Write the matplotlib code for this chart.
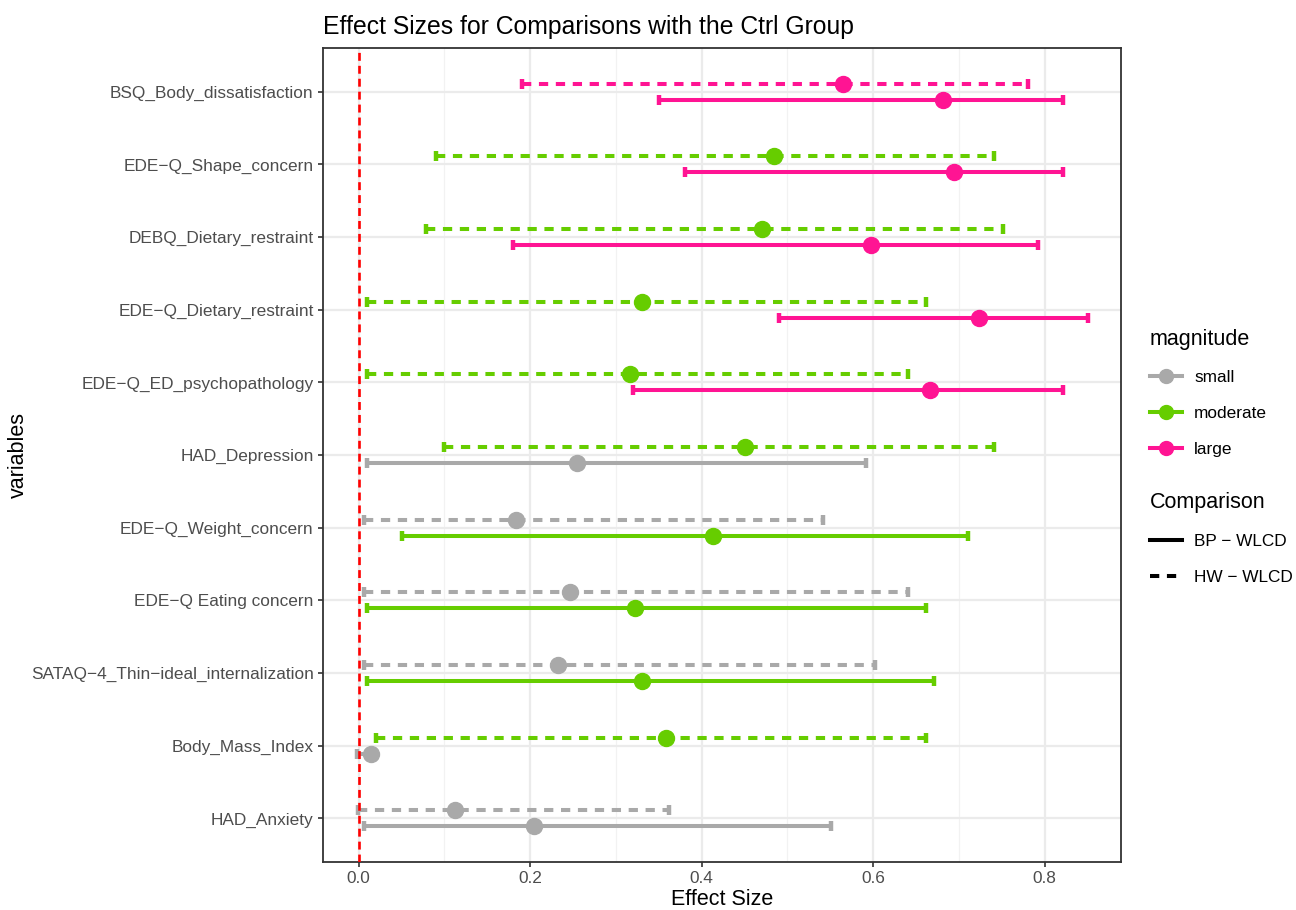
import matplotlib
matplotlib.use("Agg")
import matplotlib.pyplot as plt
from matplotlib.lines import Line2D
import numpy as np

plt.rcParams['font.family'] = ['Liberation Sans', 'DejaVu Sans']

# rows, top to bottom
variables = ["BSQ_Body_dissatisfaction", "EDE\u2212Q_Shape_concern", "DEBQ_Dietary_restraint",
             "EDE\u2212Q_Dietary_restraint", "EDE\u2212Q_ED_psychopathology", "HAD_Depression",
             "EDE\u2212Q_Weight_concern", "EDE\u2212Q Eating concern",
             "SATAQ\u22124_Thin\u2212ideal_internalization", "Body_Mass_Index", "HAD_Anxiety"]

# BP - WLCD (solid)
bp_est = [0.681, 0.694, 0.597, 0.723, 0.666, 0.254, 0.413, 0.322, 0.330, 0.014, 0.204]
bp_lo = [0.350, 0.380, 0.180, 0.490, 0.320, 0.010, 0.050, 0.010, 0.010, -0.002, 0.006]
bp_hi = [0.821, 0.821, 0.792, 0.851, 0.821, 0.591, 0.711, 0.661, 0.671, 0.018, 0.551]
bp_mag = ["large", "large", "large", "large", "large", "small",
          "moderate", "moderate", "moderate", "small", "small"]

# HW - WLCD (dashed)
hw_est = [0.565, 0.484, 0.470, 0.330, 0.316, 0.451, 0.183, 0.246, 0.232, 0.358, 0.112]
hw_lo = [0.190, 0.090, 0.079, 0.010, 0.010, 0.099, 0.006, 0.006, 0.006, 0.020, -0.001]
hw_hi = [0.781, 0.741, 0.751, 0.661, 0.641, 0.741, 0.541, 0.641, 0.602, 0.661, 0.362]
hw_mag = ["large", "moderate", "moderate", "moderate", "moderate", "moderate",
          "small", "small", "small", "moderate", "small"]

colors = {"small": "#A9A9A9", "moderate": "#66CD00", "large": "#FF1493"}
dash = (0, (2.3, 1.9))

fig = plt.figure(figsize=(12.96, 9.10), dpi=100)
ax = fig.add_axes([0.249, 0.0527, 0.616, 0.8943])

n = len(variables)
ypos = np.arange(n)[::-1]
lw = 2.9


def draw(est, lo, hi, mag, off, ls):
    for i in range(n):
        y = ypos[i] + off
        c = colors[mag[i]]
        ax.hlines(y, lo[i], hi[i], colors=c, linewidth=lw, linestyles=ls, zorder=3)
        ax.plot([lo[i], hi[i]], [y, y], ls='none', marker='|', ms=6.5, mew=3.2, color=c, zorder=3)
        ax.plot(est[i], y, 'o', ms=11.5, color=c, zorder=4)


draw(hw_est, hw_lo, hw_hi, hw_mag, 0.11, dash)
draw(bp_est, bp_lo, bp_hi, bp_mag, -0.11, 'solid')

ax.axvline(0, color='red', linewidth=1.9, linestyle=(0, (3.0, 1.9)), zorder=5)

ax.set_xlim(-0.042, 0.889)
ax.set_ylim(-0.6, n - 0.4)
ax.set_xticks([0.0, 0.2, 0.4, 0.6, 0.8])
ax.set_xticks([0.1, 0.3, 0.5, 0.7], minor=True)
ax.set_yticks(ypos)
ax.set_yticklabels(variables)
ax.grid(True, which='major', color='#EBEBEB', linewidth=1.6, zorder=0)
ax.grid(True, which='minor', axis='x', color='#F2F2F2', linewidth=0.9, zorder=0)
ax.set_axisbelow(True)
ax.tick_params(which='major', length=3.5, width=1.2, color='#333333', labelsize=12.4,
               labelcolor='#4D4D4D', pad=3)
ax.tick_params(which='minor', length=0)
for s in ax.spines.values():
    s.set_color('#333333')
    s.set_linewidth(1.3)

ax.set_xlabel("Effect Size", fontsize=15.5, labelpad=2)
ax.set_ylabel("variables", fontsize=15.5, labelpad=1)
ax.set_title("Effect Sizes for Comparisons with the Ctrl Group", fontsize=17.8, loc='left', pad=10)

mag_handles = [Line2D([], [], color=colors[m], linewidth=lw, marker='o', ms=10)
               for m in ["small", "moderate", "large"]]
leg1 = fig.legend(mag_handles, ["small", "moderate", "large"], title="magnitude",
                  loc='upper left', bbox_to_anchor=(0.875, 0.656), frameon=False,
                  fontsize=12.4, title_fontsize=15.5, handlelength=1.9, labelspacing=1.2,
                  handletextpad=0.7, alignment='left')
cmp_handles = [Line2D([], [], color='black', linewidth=lw),
               Line2D([], [], color='black', linewidth=lw, linestyle=dash)]
leg2 = fig.legend(cmp_handles, ["BP \u2212 WLCD", "HW \u2212 WLCD"], title="Comparison",
                  loc='upper left', bbox_to_anchor=(0.875, 0.476), frameon=False,
                  fontsize=12.4, title_fontsize=15.5, handlelength=1.9, labelspacing=1.2,
                  handletextpad=0.7, alignment='left')

fig.savefig("out.png", dpi=100)
